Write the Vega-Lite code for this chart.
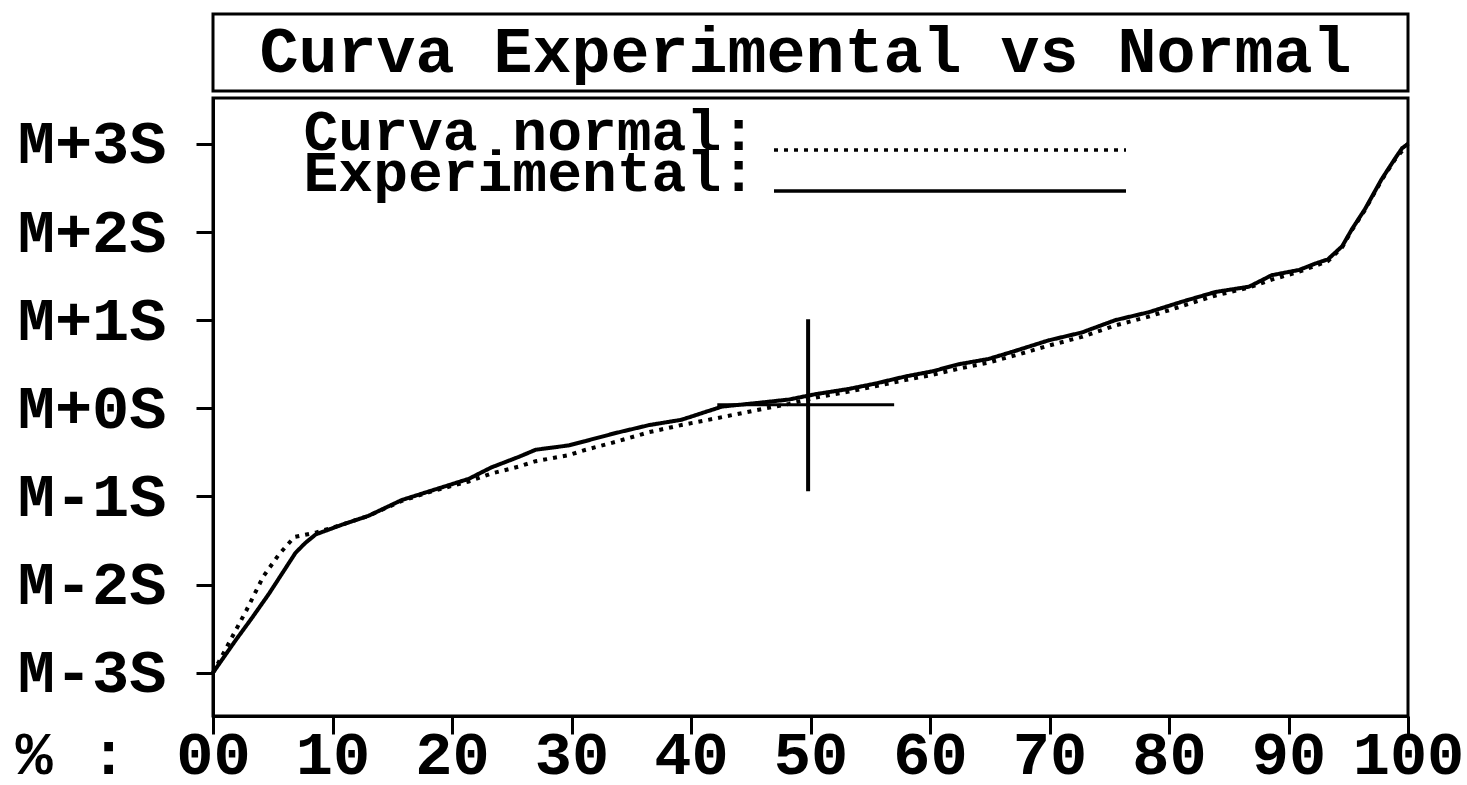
{
  "$schema": "https://vega.github.io/schema/vega-lite/v6.json",
  "background": "white",
  "padding": {"left": 13, "top": 12, "right": 0, "bottom": 0},
  "bounds": "flush",
  "spacing": 7,
  "config": {
    "view": {"stroke": "black", "strokeWidth": 3},
    "font": "Liberation Mono",
    "axis": {
      "domainColor": "black", "domainWidth": 3, "tickColor": "black", "tickWidth": 3,
      "labelColor": "black", "labelFont": "Liberation Mono", "labelFontWeight": "bold", "labelFontSize": 62,
      "grid": false, "titleColor": "black", "labelFlush": false, "labelOverlap": false, "labelLimit": 400
    }
  },
  "vconcat": [
    {
      "width": 1195,
      "height": 77,
      "data": {"values": [{"titulo": "Curva Experimental vs Normal", "centro": 50}]},
      "mark": {"type": "text", "font": "Liberation Mono", "fontWeight": "bold", "fontSize": 65, "baseline": "alphabetic", "dy": 19, "dx": -5, "color": "black"},
      "encoding": {
        "x": {"field": "centro", "type": "quantitative", "scale": {"domain": [0, 100]}, "axis": null},
        "text": {"field": "titulo"}
      }
    },
    {
      "width": 1195,
      "height": 618,
      "layer": [
        {
          "data": {"values": [
            {"serie": "Curva normal:", "p": 0, "s": -3.0},
            {"serie": "Curva normal:", "p": 1.3, "s": -2.67},
            {"serie": "Curva normal:", "p": 2.8, "s": -2.29},
            {"serie": "Curva normal:", "p": 4.2, "s": -1.91},
            {"serie": "Curva normal:", "p": 5.5, "s": -1.66},
            {"serie": "Curva normal:", "p": 6.8, "s": -1.46},
            {"serie": "Curva normal:", "p": 8.6, "s": -1.41},
            {"serie": "Curva normal:", "p": 10.8, "s": -1.32},
            {"serie": "Curva normal:", "p": 13.0, "s": -1.22},
            {"serie": "Curva normal:", "p": 15.8, "s": -1.05},
            {"serie": "Curva normal:", "p": 18.6, "s": -0.93},
            {"serie": "Curva normal:", "p": 21.4, "s": -0.83},
            {"serie": "Curva normal:", "p": 23.3, "s": -0.74},
            {"serie": "Curva normal:", "p": 25.6, "s": -0.66},
            {"serie": "Curva normal:", "p": 27.0, "s": -0.6},
            {"serie": "Curva normal:", "p": 29.8, "s": -0.53},
            {"serie": "Curva normal:", "p": 31.2, "s": -0.47},
            {"serie": "Curva normal:", "p": 33.7, "s": -0.38},
            {"serie": "Curva normal:", "p": 36.5, "s": -0.27},
            {"serie": "Curva normal:", "p": 39.2, "s": -0.19},
            {"serie": "Curva normal:", "p": 42.6, "s": -0.1},
            {"serie": "Curva normal:", "p": 45.5, "s": -0.02},
            {"serie": "Curva normal:", "p": 48.2, "s": 0.05},
            {"serie": "Curva normal:", "p": 50.4, "s": 0.12},
            {"serie": "Curva normal:", "p": 53.2, "s": 0.19},
            {"serie": "Curva normal:", "p": 55.4, "s": 0.25},
            {"serie": "Curva normal:", "p": 57.9, "s": 0.32},
            {"serie": "Curva normal:", "p": 60.2, "s": 0.38},
            {"serie": "Curva normal:", "p": 62.4, "s": 0.45},
            {"serie": "Curva normal:", "p": 64.9, "s": 0.52},
            {"serie": "Curva normal:", "p": 67.1, "s": 0.6},
            {"serie": "Curva normal:", "p": 69.9, "s": 0.71},
            {"serie": "Curva normal:", "p": 72.7, "s": 0.81},
            {"serie": "Curva normal:", "p": 75.5, "s": 0.94},
            {"serie": "Curva normal:", "p": 78.3, "s": 1.04},
            {"serie": "Curva normal:", "p": 81.1, "s": 1.16},
            {"serie": "Curva normal:", "p": 83.9, "s": 1.28},
            {"serie": "Curva normal:", "p": 86.7, "s": 1.37},
            {"serie": "Curva normal:", "p": 88.6, "s": 1.46},
            {"serie": "Curva normal:", "p": 90.9, "s": 1.55},
            {"serie": "Curva normal:", "p": 93.3, "s": 1.67},
            {"serie": "Curva normal:", "p": 94.5, "s": 1.83},
            {"serie": "Curva normal:", "p": 95.3, "s": 2.02},
            {"serie": "Curva normal:", "p": 96.4, "s": 2.25},
            {"serie": "Curva normal:", "p": 97.8, "s": 2.59},
            {"serie": "Curva normal:", "p": 98.9, "s": 2.82},
            {"serie": "Curva normal:", "p": 100, "s": 3.0},
            {"serie": "Experimental:", "p": 0, "s": -3.0},
            {"serie": "Experimental:", "p": 0.3, "s": -2.94},
            {"serie": "Experimental:", "p": 1.9, "s": -2.63},
            {"serie": "Experimental:", "p": 3.3, "s": -2.37},
            {"serie": "Experimental:", "p": 4.7, "s": -2.1},
            {"serie": "Experimental:", "p": 5.8, "s": -1.87},
            {"serie": "Experimental:", "p": 6.9, "s": -1.64},
            {"serie": "Experimental:", "p": 7.7, "s": -1.53},
            {"serie": "Experimental:", "p": 8.6, "s": -1.43},
            {"serie": "Experimental:", "p": 10.8, "s": -1.32},
            {"serie": "Experimental:", "p": 13.0, "s": -1.22},
            {"serie": "Experimental:", "p": 15.8, "s": -1.04},
            {"serie": "Experimental:", "p": 18.6, "s": -0.92},
            {"serie": "Experimental:", "p": 21.4, "s": -0.8},
            {"serie": "Experimental:", "p": 23.3, "s": -0.67},
            {"serie": "Experimental:", "p": 25.6, "s": -0.55},
            {"serie": "Experimental:", "p": 27.0, "s": -0.47},
            {"serie": "Experimental:", "p": 29.8, "s": -0.42},
            {"serie": "Experimental:", "p": 31.2, "s": -0.37},
            {"serie": "Experimental:", "p": 33.7, "s": -0.28},
            {"serie": "Experimental:", "p": 36.5, "s": -0.19},
            {"serie": "Experimental:", "p": 39.2, "s": -0.13},
            {"serie": "Experimental:", "p": 42.6, "s": 0.02},
            {"serie": "Experimental:", "p": 45.5, "s": 0.06},
            {"serie": "Experimental:", "p": 48.2, "s": 0.1},
            {"serie": "Experimental:", "p": 50.4, "s": 0.16},
            {"serie": "Experimental:", "p": 53.2, "s": 0.22},
            {"serie": "Experimental:", "p": 55.4, "s": 0.28},
            {"serie": "Experimental:", "p": 57.9, "s": 0.36},
            {"serie": "Experimental:", "p": 60.2, "s": 0.42},
            {"serie": "Experimental:", "p": 62.4, "s": 0.5},
            {"serie": "Experimental:", "p": 64.9, "s": 0.56},
            {"serie": "Experimental:", "p": 67.1, "s": 0.65},
            {"serie": "Experimental:", "p": 69.9, "s": 0.77},
            {"serie": "Experimental:", "p": 72.7, "s": 0.86},
            {"serie": "Experimental:", "p": 75.5, "s": 1.0},
            {"serie": "Experimental:", "p": 78.3, "s": 1.09},
            {"serie": "Experimental:", "p": 81.1, "s": 1.21},
            {"serie": "Experimental:", "p": 83.9, "s": 1.32},
            {"serie": "Experimental:", "p": 86.7, "s": 1.38},
            {"serie": "Experimental:", "p": 88.6, "s": 1.51},
            {"serie": "Experimental:", "p": 90.9, "s": 1.57},
            {"serie": "Experimental:", "p": 92.2, "s": 1.64},
            {"serie": "Experimental:", "p": 93.3, "s": 1.69},
            {"serie": "Experimental:", "p": 94.5, "s": 1.84},
            {"serie": "Experimental:", "p": 95.3, "s": 2.03},
            {"serie": "Experimental:", "p": 96.4, "s": 2.26},
            {"serie": "Experimental:", "p": 97.8, "s": 2.6},
            {"serie": "Experimental:", "p": 98.9, "s": 2.83},
            {"serie": "Experimental:", "p": 99.5, "s": 2.95},
            {"serie": "Experimental:", "p": 100, "s": 3.0}
          ]},
          "mark": {"type": "line", "color": "black", "strokeWidth": 4, "strokeCap": "butt"},
          "encoding": {
            "x": {
              "field": "p", "type": "quantitative",
              "scale": {"domain": [0, 100], "nice": false, "zero": false},
              "axis": {
                "values": [0, 10, 20, 30, 40, 50, 60, 70, 80, 90, 100],
                "tickSize": 18, "labelPadding": 39, "labelBaseline": "alphabetic",
                "labelExpr": "datum.value == 0 ? '00' : datum.label",
                "title": "% :", "titleX": -198, "titleY": 57, "titleAlign": "left", "titleBaseline": "alphabetic",
                "titleFont": "Liberation Mono", "titleFontWeight": "bold", "titleFontSize": 62, "titleAngle": 0
              }
            },
            "y": {
              "field": "s", "type": "quantitative",
              "scale": {"domain": [-3.49, 3.52], "nice": false, "zero": false},
              "axis": {
                "values": [-3, -2, -1, 0, 1, 2, 3],
                "tickSize": 17, "labelPadding": 30, "title": null,
                "labelExpr": "(datum.value >= 0 ? 'M+' : 'M') + datum.value + 'S'"
              }
            },
            "strokeDash": {
              "field": "serie", "type": "nominal",
              "scale": {"domain": ["Curva normal:", "Experimental:"], "range": [[4, 6], [1, 0]]},
              "legend": {
                "orient": "none", "legendX": 708, "legendY": 107, "title": null, "padding": 0,
                "symbolType": "M-8,0H8", "symbolSize": 1936, "symbolStrokeWidth": 3.5, "symbolStrokeColor": "black",
                "rowPadding": -23,
                "labelAlign": "right", "labelOffset": -223, "labelLimit": 0, "labelBaseline": "alphabetic",
                "labelFont": "Liberation Mono", "labelFontWeight": "bold", "labelFontSize": 58, "labelColor": "black"
              }
            }
          }
        },
        {
          "data": {"values": [{"p": 49.8, "s": -0.94, "s2": 1.01}]},
          "mark": {"type": "rule", "color": "black", "strokeWidth": 4},
          "encoding": {
            "x": {"field": "p", "type": "quantitative"},
            "y": {"field": "s", "type": "quantitative"},
            "y2": {"field": "s2"}
          }
        },
        {
          "data": {"values": [{"p": 42.2, "p2": 57.0, "s": 0.04}]},
          "mark": {"type": "rule", "color": "black", "strokeWidth": 3},
          "encoding": {
            "x": {"field": "p", "type": "quantitative"},
            "x2": {"field": "p2"},
            "y": {"field": "s", "type": "quantitative"}
          }
        }
      ]
    }
  ]
}
